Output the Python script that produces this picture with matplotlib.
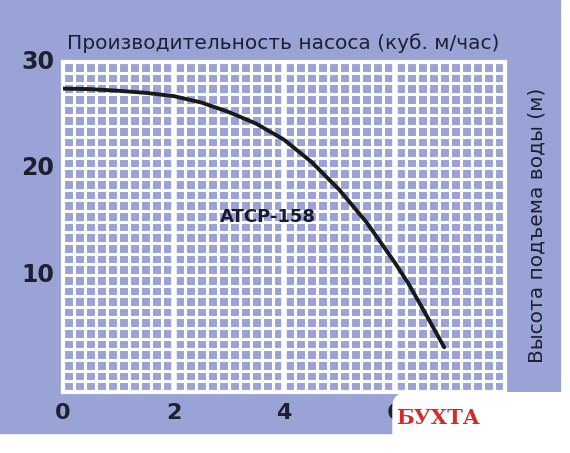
import matplotlib
matplotlib.use("Agg")
import matplotlib.pyplot as plt
import numpy as np
from matplotlib.patches import FancyBboxPatch, Rectangle

flow = [0, 0.5, 1, 1.5, 2, 2.5, 3, 3.5, 4, 4.5, 5, 5.5, 6, 6.25, 6.6, 6.9]
head = [27.5, 27.45, 27.3, 27.1, 26.8, 26.2, 25.3, 24.2, 22.7, 20.6, 18.0, 14.9, 11.2, 9.2, 6.0, 3.2]
xticks = [0, 2, 4, 6]
yticks = [10, 20, 30]
label = "ATCP-158"

bg = "#9aa3d5"
fig = plt.figure(figsize=(5.70, 4.53), dpi=100)
fig.patches.append(Rectangle((0.0, 1 - 433/453), 560/570, 433/453, transform=fig.transFigure, color=bg, zorder=0))
ax = fig.add_axes([63/570, 1 - 392/453, 442/570, 330/453])
ax.set_zorder(2)
ax.set_facecolor(bg)
ax.set_xlim(0, 8)
ax.set_ylim(-1, 30)
for x in np.arange(0, 8.01, 0.2):
    major = abs(x - round(x / 2) * 2) < 1e-6 and x > 0.01 and x < 7.99
    ax.axvline(x, color="white", lw=4 if major else 2.2, zorder=1)
for y in np.arange(-1, 30.01, 1):
    ax.axhline(y, color="white", lw=2.2, zorder=1)
for s in ax.spines.values():
    s.set_color("white"); s.set_linewidth(3)
ax.set_xticks([]); ax.set_yticks([])
ax.plot(flow, head, color="#1a1a1a", lw=2.8, zorder=3, solid_capstyle="round", solid_joinstyle="round")
ax.text(3.7, 15.4, label, fontsize=13, fontweight="bold", color="#1a1a2e", ha="center", va="center", zorder=4)
for t in xticks:
    fig.text((63 + t * 55.25) / 570, 1 - 413/453, str(t), fontsize=16, fontweight="bold", color="#1e2030", ha="center", va="center")
for t in yticks:
    ypx = 392 - (t + 1) * 330 / 31
    fig.text(38/570, 1 - ypx/453, str(t), fontsize=17, fontweight="bold", color="#1e2030", ha="center", va="center")
fig.text(283/570, 1 - 43/453, "Производительность насоса (куб. м/час)", fontsize=14.5, color="#1e2030", ha="center", va="center")
fig.text(537/570, 1 - 225/453, "Высота подъема воды (м)", fontsize=14.5, color="#1e2030", ha="center", va="center", rotation=90)
box = FancyBboxPatch((393/570, -0.05), 190/570, (58 + 25)/453, boxstyle="round,pad=0,rounding_size=0.03", transform=fig.transFigure, color="white")
box.set_zorder(5)
fig.patches.append(box)
fig.text(438/570, 1 - 418/453, "БУХТА", fontsize=15, fontweight="bold", color="#d42a2a", family="DejaVu Serif", ha="center", va="center", zorder=6)
fig.savefig("out.png", dpi=100)
